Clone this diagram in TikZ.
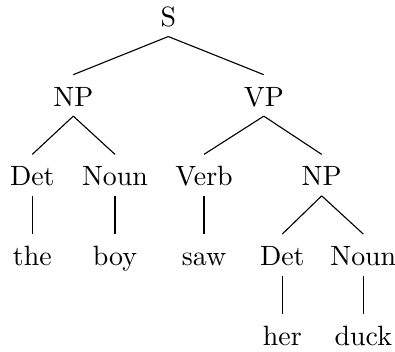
\documentclass[tikz,border=0pt]{standalone}
\begin{document}
\begin{tikzpicture}[x=0.3584pt,y=-0.3584pt,
  lab/.style={anchor=base,text height=7.8pt,text depth=0pt,inner sep=3.33pt},
  edge/.style={line width=0.4pt}]
\useasboundingbox (0,0) rectangle (395,352);
\node[lab] (S) at (168.3,26.7) {S};
\node[lab] (NP) at (73.3,106.3) {NP};
\node[lab] (VP) at (263.8,106.3) {VP};
\node[lab] (Det) at (32.3,186) {Det};
\node[lab] (Noun) at (115,186) {Noun};
\node[lab] (Verb) at (204,186) {Verb};
\node[lab] (NPb) at (321.7,186) {NP};
\node[lab] (the) at (32.3,265.7) {the};
\node[lab] (boy) at (115,265.7) {boy};
\node[lab] (saw) at (204,265.7) {saw};
\node[lab] (Detb) at (282.3,265.7) {Det};
\node[lab] (Nounb) at (363.3,265.7) {Noun};
\node[lab] (her) at (282.3,345.4) {her};
\node[lab] (duck) at (363.3,345.4) {duck};
\draw[edge] (S.south) -- (NP.north);
\draw[edge] (S.south) -- (VP.north);
\draw[edge] (NP.south) -- (Det.north);
\draw[edge] (NP.south) -- (Noun.north);
\draw[edge] (VP.south) -- (Verb.north);
\draw[edge] (VP.south) -- (NPb.north);
\draw[edge] (Det.south) -- (the.north);
\draw[edge] (Noun.south) -- (boy.north);
\draw[edge] (Verb.south) -- (saw.north);
\draw[edge] (NPb.south) -- (Detb.north);
\draw[edge] (NPb.south) -- (Nounb.north);
\draw[edge] (Detb.south) -- (her.north);
\draw[edge] (Nounb.south) -- (duck.north);
\end{tikzpicture}
\end{document}
